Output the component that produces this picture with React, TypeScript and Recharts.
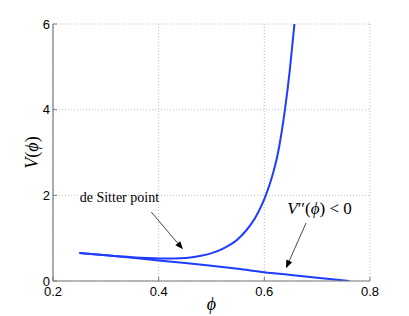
import React from 'react';
import { LineChart, Line, XAxis, YAxis, CartesianGrid, ReferenceLine, ReferenceDot } from 'recharts';

const phiLine = [0.25, 0.3, 0.35, 0.4, 0.45, 0.5, 0.55, 0.6, 0.65, 0.7, 0.761];
const vLine = [0.654, 0.6, 0.545, 0.48, 0.42, 0.355, 0.285, 0.205, 0.14, 0.075, 0];

const phiCurve = [0.25, 0.3, 0.35, 0.38, 0.42, 0.44, 0.46, 0.48, 0.4975, 0.522, 0.5475, 0.566, 0.582, 0.595, 0.604, 0.615, 0.626, 0.639, 0.648, 0.657];
const vCurve = [0.654, 0.6, 0.555, 0.537, 0.525, 0.532, 0.55, 0.59, 0.64, 0.757, 0.95, 1.185, 1.46, 1.77, 2.04, 2.45, 3.0, 4.0, 4.9, 6.0];

const xTicks = [0.2, 0.4, 0.6, 0.8];
const yTicks = [0, 2, 4, 6];

const arrowDeSitter = [{ x: 0.386, y: 1.61 }, { x: 0.446, y: 0.74 }];
const arrowConcave = [{ x: 0.679, y: 1.355 }, { x: 0.641, y: 0.3 }];
const labelDeSitter = { x: 0.2506, y: 1.846 };
const labelConcave = { x: 0.6434, y: 1.575 };

const lineData = phiLine.map((p, i) => ({ phi: p, v: vLine[i] }));
const curveData = phiCurve.map((p, i) => ({ phi: p, v: vCurve[i] }));

const AXIS = '#7a7a7a';
const BLUE = '#1f3cff';
const SANS = 'Liberation Sans, Arial, sans-serif';
const SERIF = 'Liberation Serif, DejaVu Serif, serif';

const fmt = (v: number) => String(v);

const XTickBottom = (props: any) => {
  const { x, y, payload } = props;
  return (
    <g>
      <line x1={x} y1={y} x2={x} y2={y - 4} stroke={AXIS} />
      <text x={x} y={y + 15} textAnchor="middle" fontFamily={SANS} fontSize={13} fill="#000">{fmt(payload.value)}</text>
    </g>
  );
};
const XTickTop = (props: any) => {
  const { x, y } = props;
  return <line x1={x} y1={y} x2={x} y2={y + 4} stroke={AXIS} />;
};
const YTickLeft = (props: any) => {
  const { x, y, payload } = props;
  return (
    <g>
      <line x1={x} y1={y} x2={x + 4} y2={y} stroke={AXIS} />
      <text x={x - 3} y={y + 4.5} textAnchor="end" fontFamily={SANS} fontSize={13} fill="#000">{fmt(payload.value)}</text>
    </g>
  );
};
const YTickRight = (props: any) => {
  const { x, y } = props;
  return <line x1={x} y1={y} x2={x - 4} y2={y} stroke={AXIS} />;
};

const Arrow = (props: any) => {
  const { x1, y1, x2, y2 } = props;
  if ([x1, y1, x2, y2].some((v) => typeof v !== 'number' || isNaN(v))) return null;
  const dx = x2 - x1;
  const dy = y2 - y1;
  const len = Math.sqrt(dx * dx + dy * dy);
  const ux = dx / len;
  const uy = dy / len;
  const hl = 8;
  const hw = 3.2;
  const bx = x2 - ux * hl;
  const by = y2 - uy * hl;
  const pts = `${x2},${y2} ${bx - uy * hw},${by + ux * hw} ${bx + uy * hw},${by - ux * hw}`;
  return (
    <g>
      <line x1={x1} y1={y1} x2={bx} y2={by} stroke="#333" strokeWidth={0.9} />
      <polygon points={pts} fill="#000" />
    </g>
  );
};

const DeSitterText = (props: any) => {
  const { cx, cy } = props;
  return (
    <text x={cx} y={cy} fontFamily={SERIF} fontSize={14} fill="#000">de Sitter point</text>
  );
};
const ConcaveText = (props: any) => {
  const { cx, cy } = props;
  return (
    <text x={cx} y={cy} fontFamily={SERIF} fontSize={17} fill="#000">
      <tspan fontStyle="italic">V</tspan>
      <tspan>{"\u2032\u2032("}</tspan>
      <tspan fontStyle="italic">{"\u03D5"}</tspan>
      <tspan>{") < 0"}</tspan>
    </text>
  );
};

const XLabel = (props: any) => {
  const vb = props.viewBox || {};
  return (
    <text x={vb.x + vb.width / 2} y={vb.y + 29} textAnchor="middle" fontFamily={SERIF} fontStyle="italic" fontSize={18} fill="#000">{"\u03D5"}</text>
  );
};
const YLabel = (props: any) => {
  const vb = props.viewBox || {};
  const cx = vb.x + 38;
  const cy = vb.y + vb.height / 2;
  return (
    <text x={cx} y={cy} transform={`rotate(-90 ${cx} ${cy})`} textAnchor="middle" fontFamily={SERIF} fontSize={18} fill="#000">
      <tspan fontStyle="italic">V</tspan>
      <tspan>(</tspan>
      <tspan fontStyle="italic">{"\u03D5"}</tspan>
      <tspan>)</tspan>
    </text>
  );
};

export default function App() {
  return (
    <div style={{ position: 'absolute', left: 0, top: 0, background: '#fff' }}>
      <LineChart width={409} height={316} margin={{ top: 24, right: 39, bottom: 0, left: 0 }}>
        <CartesianGrid stroke="#bdbdbd" strokeDasharray="1 2" />
        <XAxis
          dataKey="phi"
          type="number"
          domain={[0.2, 0.8]}
          ticks={xTicks}
          height={35}
          tickSize={0}
          tickMargin={0}
          tick={<XTickBottom />}
          axisLine={{ stroke: AXIS, strokeWidth: 1.2 }}
          tickLine={false}
          allowDataOverflow
          label={<XLabel />}
        />
        <XAxis
          xAxisId="top"
          orientation="top"
          type="number"
          domain={[0.2, 0.8]}
          ticks={xTicks}
          height={0}
          tickSize={0}
          tickMargin={0}
          tick={<XTickTop />}
          axisLine={{ stroke: AXIS, strokeWidth: 1.2 }}
          tickLine={false}
        />
        <YAxis
          type="number"
          domain={[0, 6]}
          ticks={yTicks}
          width={53}
          tickSize={0}
          tickMargin={0}
          tick={<YTickLeft />}
          axisLine={{ stroke: AXIS, strokeWidth: 1.2 }}
          tickLine={false}
          allowDataOverflow
          label={<YLabel />}
        />
        <YAxis
          yAxisId="right"
          orientation="right"
          type="number"
          domain={[0, 6]}
          ticks={yTicks}
          width={0}
          tickSize={0}
          tickMargin={0}
          tick={<YTickRight />}
          axisLine={{ stroke: AXIS, strokeWidth: 1.2 }}
          tickLine={false}
        />
        <Line data={lineData} dataKey="v" type="monotone" stroke={BLUE} strokeWidth={2} dot={false} isAnimationActive={false} />
        <Line data={curveData} dataKey="v" type="monotone" stroke={BLUE} strokeWidth={2} dot={false} isAnimationActive={false} />
        <ReferenceLine segment={arrowDeSitter} shape={<Arrow />} ifOverflow="visible" />
        <ReferenceLine segment={arrowConcave} shape={<Arrow />} ifOverflow="visible" />
        <ReferenceDot x={labelDeSitter.x} y={labelDeSitter.y} r={0} shape={<DeSitterText />} ifOverflow="visible" />
        <ReferenceDot x={labelConcave.x} y={labelConcave.y} r={0} shape={<ConcaveText />} ifOverflow="visible" />
      </LineChart>
    </div>
  );
}
